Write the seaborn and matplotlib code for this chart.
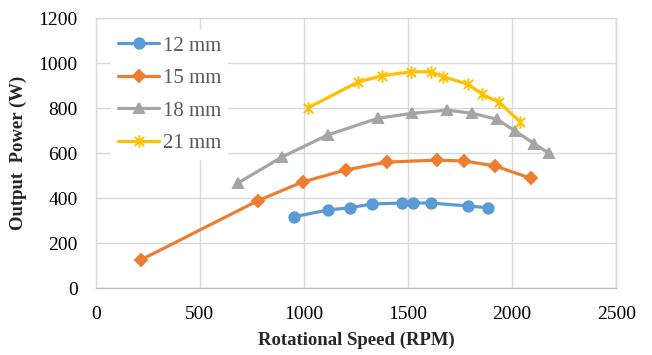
import numpy as np
import pandas as pd
import matplotlib
matplotlib.use("Agg")
import matplotlib.pyplot as plt
from matplotlib.path import Path
import seaborn as sns

series_names = ["12 mm", "15 mm", "18 mm", "21 mm"]
rpm_12 = [953, 1114, 1220, 1328, 1470, 1523, 1609, 1790, 1883]
pow_12 = [318, 348, 358, 375, 379, 379, 379, 366, 358]
rpm_15 = [216, 777, 997, 1200, 1397, 1637, 1769, 1918, 2091]
pow_15 = [126, 389, 474, 526, 561, 570, 566, 544, 489]
rpm_18 = [681, 893, 1117, 1355, 1520, 1685, 1806, 1926, 2014, 2107, 2177]
pow_18 = [467, 583, 683, 756, 778, 792, 779, 752, 700, 643, 600]
rpm_21 = [1021, 1261, 1376, 1513, 1611, 1667, 1790, 1857, 1939, 2038]
pow_21 = [803, 918, 945, 963, 963, 941, 907, 862, 827, 740]

frames = []
for name, xs, ys in zip(series_names, [rpm_12, rpm_15, rpm_18, rpm_21],
                        [pow_12, pow_15, pow_18, pow_21]):
    frames.append(pd.DataFrame({"rpm": xs, "power": ys, "series": name,
                                "order": range(len(xs))}))
df = pd.concat(frames, ignore_index=True)

sns.set_theme(style="white")
plt.rcParams['font.family'] = ['Liberation Serif', 'DejaVu Serif']

star = Path([(-1, -1), (1, 1), (-1, 1), (1, -1), (0, -1.35), (0, 1.35)],
            [Path.MOVETO, Path.LINETO, Path.MOVETO, Path.LINETO, Path.MOVETO, Path.LINETO])

palette = {"12 mm": "#5B9BD5", "15 mm": "#ED7D31", "18 mm": "#A5A5A5", "21 mm": "#FFC000"}
markers = {"12 mm": "o", "15 mm": "D", "18 mm": "^", "21 mm": star}

fig = plt.figure(figsize=(6.52, 3.55), dpi=100)
ax = fig.add_axes([0.147, 0.188, 0.798, 0.760])

sns.lineplot(data=df, x="rpm", y="power", hue="series", style="series",
             palette=palette, markers=markers, dashes=False, sort=False,
             linewidth=2.3, markersize=7.5, markeredgewidth=1.4, ax=ax,
             hue_order=series_names, style_order=series_names)

for line in ax.get_lines():
    c = line.get_color()
    line.set_markerfacecolor(c)
    line.set_markeredgecolor(c)
    if line.get_marker() == "D":
        line.set_markersize(6.5)
    if isinstance(line.get_marker(), Path) or line.get_label() == "21 mm":
        line.set_markersize(9)

ax.set_xlim(0, 2500)
ax.set_ylim(0, 1200)
ax.set_xticks(np.arange(0, 2501, 500))
ax.set_yticks(np.arange(0, 1201, 200))
ax.grid(True, color="#d9d9d9", linewidth=1)
ax.set_axisbelow(True)
for s in ax.spines.values():
    s.set_color("#d9d9d9")
    s.set_linewidth(1)
ax.spines["bottom"].set_color("#bfbfbf")
ax.tick_params(axis="x", labelsize=14, colors="black", length=0, pad=13)
ax.tick_params(axis="y", labelsize=14, colors="black", length=0, pad=13)
ax.set_xlabel("Rotational Speed (RPM)", fontsize=13.5, fontweight="bold", labelpad=6)
ax.set_ylabel("Output  Power (W)", fontsize=13.5, fontweight="bold", labelpad=8)

handles, labels = ax.get_legend_handles_labels()
for h in handles:
    c = h.get_color()
    h.set_markerfacecolor(c)
    h.set_markeredgecolor(c)
leg = ax.legend(handles, labels, loc="upper left", bbox_to_anchor=(0.01, 0.997),
                fontsize=15, frameon=True, framealpha=1, edgecolor="white",
                fancybox=False, handlelength=2.0, handletextpad=0.15,
                labelspacing=0.62, borderpad=0.3)
for t in leg.get_texts():
    t.set_color("#595959")

fig.savefig("out.png", dpi=100)
